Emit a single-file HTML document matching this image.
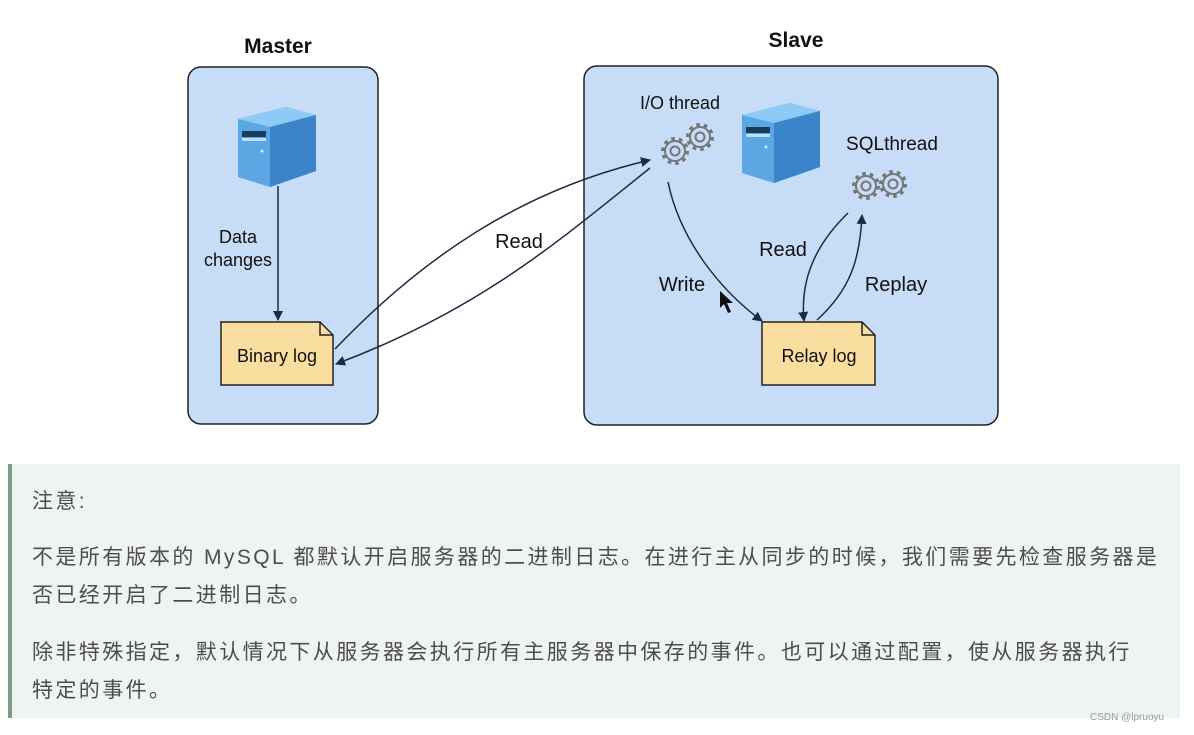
<!DOCTYPE html>
<html><head><meta charset="utf-8"><style>
body{margin:0;width:1194px;height:735px;background:#fff;overflow:hidden;position:relative;font-family:"Liberation Sans","Noto Sans CJK SC",sans-serif}
svg{position:absolute;left:0;top:0}
.note{position:absolute;left:8px;top:464px;width:1172px;height:254px;background:#eff4f1;border-left:4px solid #7d9e85;box-sizing:border-box;color:#4d4d4d;font-size:21px;letter-spacing:2.4px}
.note div{position:absolute;left:20px;white-space:nowrap}
</style></head><body>
<svg width="1194" height="460" font-family="Liberation Sans, sans-serif">
<defs>
<marker id="a" markerWidth="10" markerHeight="10" refX="9" refY="5" orient="auto" markerUnits="userSpaceOnUse"><path d="M0,0 L10,5 L0,10 z" fill="#1d2b40"/></marker>
<g id="srv"><polygon points="0,12 48,0 78,8 78,64 32,80 0,70" fill="#5ba7e3"/><polygon points="0,12 48,0 78,8 32,20" fill="#8dcaf5"/><polygon points="32,20 78,8 78,64 32,80" fill="#3b84c9"/><rect x="4" y="24" width="24" height="6" fill="#1e3a5a"/><rect x="4" y="31" width="24" height="3" fill="#b8e0fb"/><circle cx="24" cy="44" r="1.5" fill="#d0ecff"/></g>
<g id="gear" fill="none" stroke="#777" stroke-width="2"><circle r="10"/><circle r="4.5"/><circle r="12" stroke-dasharray="3.5 4" stroke-width="4"/></g>
</defs>
<text x="278" y="53" font-size="21" font-weight="bold" text-anchor="middle" fill="#111">Master</text>
<text x="796" y="47" font-size="21" font-weight="bold" text-anchor="middle" fill="#111">Slave</text>
<rect x="188" y="67" width="190" height="357" rx="13" fill="#c6dcf7" stroke="#222" stroke-width="1.5"/>
<rect x="584" y="66" width="414" height="359" rx="13" fill="#c6dcf7" stroke="#222" stroke-width="1.5"/>
<use href="#srv" x="238" y="107"/>
<use href="#srv" x="742" y="103"/>
<line x1="278" y1="186" x2="278" y2="320" stroke="#1d2b40" stroke-width="1.5" marker-end="url(#a)"/>
<text x="238" y="243" font-size="18" text-anchor="middle" fill="#111">Data</text>
<text x="238" y="266" font-size="18" text-anchor="middle" fill="#111">changes</text>
<path d="M221,322 H320 L333,335 V385 H221 Z" fill="#f9dea0" stroke="#222" stroke-width="1.5"/>
<path d="M320,322 V335 H333" fill="none" stroke="#222" stroke-width="1.5"/>
<text x="277" y="362" font-size="18" text-anchor="middle" fill="#111">Binary log</text>
<path d="M762,322 H862 L875,335 V385 H762 Z" fill="#f9dea0" stroke="#222" stroke-width="1.5"/>
<path d="M862,322 V335 H875" fill="none" stroke="#222" stroke-width="1.5"/>
<text x="819" y="362" font-size="18" text-anchor="middle" fill="#111">Relay log</text>
<path d="M335,349 C420,260 520,190 650,160" fill="none" stroke="#1d2b40" stroke-width="1.5" marker-end="url(#a)"/>
<path d="M650,168 C560,240 480,310 336,364" fill="none" stroke="#1d2b40" stroke-width="1.5" marker-end="url(#a)"/>
<text x="519" y="248" font-size="20" text-anchor="middle" fill="#111">Read</text>
<text x="680" y="109" font-size="18" text-anchor="middle" fill="#111">I/O thread</text>
<use href="#gear" x="675" y="151"/><use href="#gear" x="700" y="137"/>
<text x="892" y="150" font-size="19" text-anchor="middle" fill="#111">SQLthread</text>
<use href="#gear" x="866" y="186"/><use href="#gear" x="893" y="184"/>
<path d="M668,182 C680,240 720,290 762,321" fill="none" stroke="#1d2b40" stroke-width="1.5" marker-end="url(#a)"/>
<text x="682" y="291" font-size="20" text-anchor="middle" fill="#111">Write</text>
<path d="M848,213 C815,245 800,280 804,321" fill="none" stroke="#1d2b40" stroke-width="1.5" marker-end="url(#a)"/>
<path d="M817,320 C850,290 860,260 862,215" fill="none" stroke="#1d2b40" stroke-width="1.5" marker-end="url(#a)"/>
<text x="783" y="256" font-size="20" text-anchor="middle" fill="#111">Read</text>
<text x="896" y="291" font-size="20" text-anchor="middle" fill="#111">Replay</text>
<path d="M720,291 V308 L724,304 L728,313 L731,312 L727,303 L733,303 Z" fill="#111"/>
</svg>
<div class="note">
<div style="top:21px">注意:</div>
<div style="top:77px">不是所有版本的 MySQL 都默认开启服务器的二进制日志。在进行主从同步的时候，我们需要先检查服务器是</div>
<div style="top:115px">否已经开启了二进制日志。</div>
<div style="top:172px">除非特殊指定，默认情况下从服务器会执行所有主服务器中保存的事件。也可以通过配置，使从服务器执行</div>
<div style="top:210px">特定的事件。</div>
</div>
<div style="position:absolute;left:1090px;top:712px;font-size:10px;color:#999">CSDN @lpruoyu</div>
</body></html>
